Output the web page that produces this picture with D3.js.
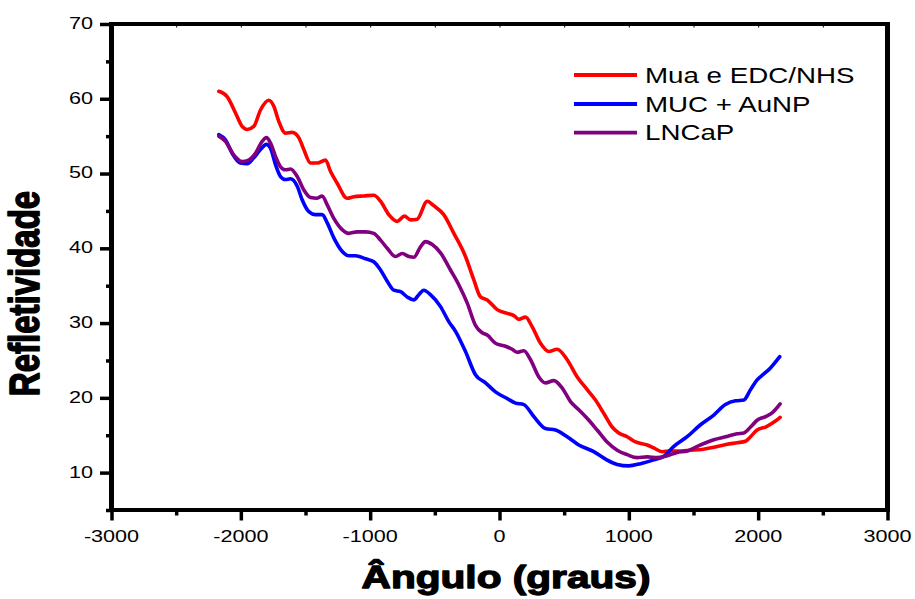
<!DOCTYPE html>
<html>
<head>
<meta charset="utf-8">
<script src="https://cdn.jsdelivr.net/npm/d3@7"></script>
<style>
  html, body { margin: 0; padding: 0; background: #fff; }
  svg { display: block; }
  text { font-family: "Liberation Sans", Arial, sans-serif; fill: #000; }
</style>
</head>
<body>
<svg id="chart" width="915" height="599"></svg>
<script>
// ---------- data ----------
const seriesNames = ["Mua e EDC/NHS", "MUC + AuNP", "LNCaP"];
const seriesColors = ["#ff0000", "#0000ff", "#800080"];

const redX = [-2170,-2106,-2041,-1990,-1951,-1900,-1848,-1784,-1745,-1707,-1655,-1603,-1552,-1513,-1461,-1410,-1345,-1307,-1255,-1178,-1126,-1049,-972,-920,-856,-791,-735,-688,-636,-559,-508,-431,-353,-263,-199,-147,-95,-18,60,111,150,201,253,317,381,446,523,601,678,742,807,871,922,987,1052,1142,1193,1258,1322,1400,1477,1567,1657,1760,1838,1902,1941,1992,2057,2108,2170];
const redY = [61.0,60.3,58.1,56.3,55.9,56.3,58.5,59.8,59.0,57.0,55.4,55.5,54.8,53.2,51.4,51.4,51.8,50.3,48.7,46.7,46.9,47.0,47.1,46.3,44.5,43.6,44.3,43.8,43.9,46.3,45.7,44.5,42.0,38.9,35.8,33.5,33.1,31.8,31.3,31.0,30.5,30.8,29.5,27.3,26.2,26.5,25.1,22.8,21.1,19.7,17.9,16.1,15.3,14.8,14.1,13.7,13.3,12.8,12.9,12.9,13.0,13.1,13.4,13.8,14.0,14.2,14.8,15.7,16.1,16.6,17.4];

const blueX = [-2170,-2119,-2067,-2003,-1951,-1900,-1848,-1802,-1771,-1732,-1693,-1655,-1616,-1564,-1526,-1474,-1423,-1371,-1332,-1281,-1217,-1165,-1114,-1036,-972,-920,-868,-817,-765,-714,-662,-624,-585,-534,-456,-392,-340,-263,-186,-108,-31,60,124,188,265,356,433,523,613,729,820,910,1000,1090,1193,1271,1348,1451,1554,1657,1747,1825,1889,1941,1992,2044,2095,2167];
const blueY = [55.2,54.5,52.7,51.4,51.3,52.1,53.2,53.9,53.4,51.2,49.6,49.2,49.3,48.3,46.5,44.9,44.5,44.5,43.4,41.4,39.6,39.0,39.0,38.6,38.2,37.1,35.6,34.4,34.2,33.5,33.1,33.8,34.4,33.8,32.2,30.2,28.9,26.2,23.1,22.0,20.8,19.9,19.3,19.1,17.5,15.9,15.7,14.8,13.7,12.8,11.8,11.1,10.9,11.2,11.7,12.2,13.5,14.8,16.4,17.7,19.1,19.6,19.7,21.1,22.4,23.2,24.0,25.5];

const purpleX = [-2170,-2119,-2055,-1990,-1939,-1887,-1835,-1802,-1771,-1732,-1693,-1655,-1616,-1564,-1513,-1461,-1410,-1371,-1332,-1281,-1217,-1165,-1101,-1036,-972,-920,-868,-804,-752,-701,-662,-611,-572,-520,-456,-379,-314,-250,-186,-134,-95,-31,46,98,137,188,240,304,356,420,485,549,613,691,755,832,910,987,1064,1142,1219,1284,1374,1451,1554,1657,1747,1838,1889,1941,1992,2057,2108,2170];
const purpleY = [55.0,54.3,52.5,51.6,51.8,52.7,54.3,54.8,54.1,52.3,50.9,50.5,50.6,49.6,47.8,46.8,46.7,47.0,45.8,44.0,42.5,42.0,42.2,42.2,42.0,41.1,40.0,38.9,39.3,38.9,38.8,40.2,40.9,40.5,39.4,37.1,35.1,32.7,29.7,28.7,28.4,27.3,26.9,26.5,26.1,26.3,25.1,22.8,22.0,22.3,21.3,19.5,18.4,17.0,15.7,14.1,13.0,12.4,12.0,12.1,12.0,12.2,12.7,12.9,13.7,14.4,14.8,15.2,15.3,16.1,17.0,17.5,18.0,19.2];

const xMajorTicks = [-3000,-2000,-1000,0,1000,2000,3000];
const xMinorTicks = [-2500,-1500,-500,500,1500,2500];
const yMajorTicks = [10,20,30,40,50,60,70];
const yMinorTicks = [5,15,25,35,45,55,65];
const xTitle = "Ângulo (graus)";
const yTitle = "Refletividade";

// ---------- layout ----------
const svg = d3.select("#chart");
const SX = 1.27; // horizontal text stretch seen in the reference
const x = d3.scaleLinear().domain([-3000, 3000]).range([111.5, 887.5]);
const y = d3.scaleLinear().domain([5, 70]).range([510, 24]);

const series = [
  { name: seriesNames[0], color: seriesColors[0], xs: redX, ys: redY },
  { name: seriesNames[1], color: seriesColors[1], xs: blueX, ys: blueY },
  { name: seriesNames[2], color: seriesColors[2], xs: purpleX, ys: purpleY }
];

// curves
const line = d3.line().x(d => x(d[0])).y(d => y(d[1])).curve(d3.curveMonotoneX);
series.forEach(s => {
  const pts = s.xs.map((v, i) => [v, s.ys[i]]);
  svg.append("path").datum(pts)
    .attr("d", line)
    .attr("fill", "none")
    .attr("stroke", s.color)
    .attr("stroke-width", 3.6)
    .attr("stroke-linejoin", "round")
    .attr("stroke-linecap", "round");
});

// axes (tick lines via d3 axes)
function styleAxis(g, w) {
  g.select(".domain").remove();
  g.selectAll(".tick line").attr("stroke", "#000").attr("stroke-width", w);
}
const [x0, x1] = x.range();
const [yb, yt] = y.range();
// bottom major
svg.append("g").attr("transform", `translate(0,${yb})`)
  .call(d3.axisBottom(x).tickValues(xMajorTicks).tickSize(10.5).tickFormat(""))
  .call(g => styleAxis(g, 3.5));
// bottom minor
svg.append("g").attr("transform", `translate(0,${yb})`)
  .call(d3.axisBottom(x).tickValues(xMinorTicks).tickSize(5.5).tickFormat(""))
  .call(g => styleAxis(g, 3.5));
// top small inner ticks
svg.append("g").attr("transform", `translate(0,${yt})`)
  .call(d3.axisBottom(x).tickValues(xMajorTicks.concat(xMinorTicks)).tickSize(3.5).tickFormat(""))
  .call(g => styleAxis(g, 1));
// left major
svg.append("g").attr("transform", `translate(${x0},0)`)
  .call(d3.axisLeft(y).tickValues(yMajorTicks).tickSize(11.5).tickFormat(""))
  .call(g => styleAxis(g, 3.5));
// left minor
svg.append("g").attr("transform", `translate(${x0},0)`)
  .call(d3.axisLeft(y).tickValues(yMinorTicks).tickSize(5.5).tickFormat(""))
  .call(g => styleAxis(g, 3.5));

// frame
svg.append("line").attr("x1", x0 - 2.5).attr("x2", x1 + 2.5).attr("y1", yt).attr("y2", yt)
  .attr("stroke", "#000").attr("stroke-width", 4);
svg.append("line").attr("x1", x0).attr("x2", x1 + 2.5).attr("y1", yb).attr("y2", yb)
  .attr("stroke", "#000").attr("stroke-width", 4);
svg.append("line").attr("x1", x0).attr("x2", x0).attr("y1", yt - 2).attr("y2", yb + 2)
  .attr("stroke", "#000").attr("stroke-width", 5);
svg.append("line").attr("x1", x1).attr("x2", x1).attr("y1", yt - 2).attr("y2", yb + 2)
  .attr("stroke", "#000").attr("stroke-width", 5);

// tick labels
svg.append("g").selectAll("text").data(xMajorTicks).join("text")
  .attr("text-anchor", "middle")
  .attr("font-size", 17)
  .attr("transform", d => `translate(${x(d)},541.5) scale(${SX},1)`)
  .text(d => d);
svg.append("g").selectAll("text").data(yMajorTicks).join("text")
  .attr("text-anchor", "end")
  .attr("font-size", 17)
  .attr("transform", d => `translate(93,${y(d) + 4.9}) scale(${SX},1)`)
  .text(d => d);

// axis titles
svg.append("text")
  .attr("text-anchor", "middle")
  .attr("font-size", 32).attr("font-weight", "bold")
  .attr("stroke", "#000").attr("stroke-width", 1.3).attr("stroke-linejoin", "round")
  .attr("transform", `translate(506,588) scale(${SX},1)`)
  .text(xTitle);
svg.append("text")
  .attr("text-anchor", "middle")
  .attr("font-size", 33).attr("font-weight", "bold")
  .attr("stroke", "#000").attr("stroke-width", 1.3).attr("stroke-linejoin", "round")
  .attr("transform", `translate(38.5,293.5) scale(${SX},1) rotate(-90)`)
  .text(yTitle);

// legend
const legY = [75, 104, 132.7];
const leg = svg.append("g");
series.forEach((s, i) => {
  leg.append("line").attr("x1", 574).attr("x2", 637).attr("y1", legY[i]).attr("y2", legY[i])
    .attr("stroke", s.color).attr("stroke-width", 3.8);
  leg.append("text").attr("font-size", 22)
    .attr("transform", `translate(645,${legY[i] + 7.6}) scale(1.26,1)`)
    .text(s.name);
});
</script>
</body>
</html>
